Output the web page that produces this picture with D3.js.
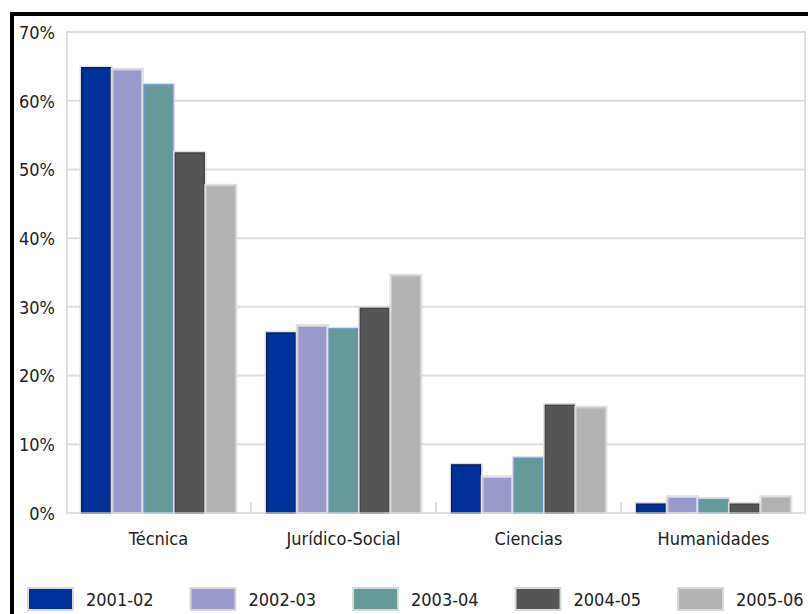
<!DOCTYPE html>
<html lang="es">
<head>
    <meta charset="UTF-8">
    <title>Distribución por rama</title>
    <style>
        body { margin: 0; background: #fff; }
        text { font-family: "DejaVu Sans Condensed", "Liberation Sans Narrow", sans-serif; fill: #222; }
    </style>
</head>
<body>
<script src="https://cdn.jsdelivr.net/npm/d3@7/dist/d3.min.js"></script>
<script>
    let categories = ["Técnica", "Jurídico-Social", "Ciencias", "Humanidades"];
    let series = ["2001-02", "2002-03", "2003-04", "2004-05", "2005-06"];
    let values2001 = [64.8, 26.2, 7.0, 1.3];
    let values2002 = [64.5, 27.2, 5.2, 2.3];
    let values2003 = [62.3, 26.8, 8.0, 2.0];
    let values2004 = [52.4, 29.8, 15.7, 1.3];
    let values2005 = [47.6, 34.5, 15.3, 2.3];
    let yTicks = [0, 10, 20, 30, 40, 50, 60, 70];

    let seriesValues = [values2001, values2002, values2003, values2004, values2005];
    let fills = ["#00309a", "#9999cc", "#669999", "#555555", "#b2b2b2"];
    let strokes = ["#0a1f5c", "#cfcfd8", "#6699cc", "#444444", "#c8c8c8"];

    let width = 808;
    let height = 614;
    let svg = d3.select("body").append("svg")
        .attr("width", width)
        .attr("height", height);

    let x0 = d3.scaleBand().domain(categories).range([66, 806]);
    let x1 = d3.scaleBand().domain(series).range([0, x0.bandwidth()])
        .paddingInner(0.07).paddingOuter(0.5);
    let y = d3.scaleLinear().domain([0, 70]).range([513, 32]);

    // grid
    svg.append("g").selectAll("line")
        .data(yTicks)
        .enter()
        .append("line")
        .attr("x1", 66)
        .attr("x2", 806)
        .attr("y1", d => y(d))
        .attr("y2", d => y(d))
        .attr("stroke", "#dcdcdc")
        .attr("stroke-width", 2);
    svg.append("line")
        .attr("x1", 67).attr("x2", 67)
        .attr("y1", y(70)).attr("y2", y(0))
        .attr("stroke", "#dcdcdc").attr("stroke-width", 2);
    svg.append("line")
        .attr("x1", 805).attr("x2", 805)
        .attr("y1", y(70)).attr("y2", y(0))
        .attr("stroke", "#dcdcdc").attr("stroke-width", 2);
    // small separators between groups
    svg.append("g").selectAll("line")
        .data(categories.slice(1))
        .enter()
        .append("line")
        .attr("x1", d => x0(d))
        .attr("x2", d => x0(d))
        .attr("y1", y(0) - 11)
        .attr("y2", y(0))
        .attr("stroke", "#dcdcdc")
        .attr("stroke-width", 2);

    // y axis labels
    let yAxis = d3.axisLeft(y).tickValues(yTicks).tickFormat(d => d + "%").tickSize(0).tickPadding(0);
    let gy = svg.append("g").attr("transform", "translate(55,0)").call(yAxis);
    gy.select(".domain").remove();
    gy.selectAll("text").attr("font-size", 18).attr("font-family", null).attr("dy", "0.35em");

    // x axis labels
    let xAxis = d3.axisBottom(x0).tickSize(0).tickPadding(0);
    let gx = svg.append("g").attr("transform", "translate(0,532)").call(xAxis);
    gx.select(".domain").remove();
    gx.selectAll("text").attr("font-size", 18).attr("dy", "0.71em");
    gy.attr("font-family", null);
    gx.attr("font-family", null);

    // bars
    let groups = svg.append("g").selectAll("g")
        .data(series)
        .enter()
        .append("g");
    groups.selectAll("rect")
        .data((s, i) => categories.map((c, j) => ({c: c, s: s, i: i, v: seriesValues[i][j]})))
        .enter()
        .append("rect")
        .attr("x", d => x0(d.c) + x1(d.s))
        .attr("y", d => y(d.v))
        .attr("width", x1.bandwidth())
        .attr("height", d => y(0) - y(d.v))
        .attr("fill", d => fills[d.i])
        .attr("stroke", d => strokes[d.i])
        .attr("stroke-width", 1.5);
    // light outline around bars
    groups.selectAll("rect.outline")
        .data((s, i) => categories.map((c, j) => ({c: c, s: s, v: seriesValues[i][j]})))
        .enter()
        .append("rect")
        .attr("class", "outline")
        .attr("x", d => x0(d.c) + x1(d.s) - 1.5)
        .attr("y", d => y(d.v) - 1.5)
        .attr("width", x1.bandwidth() + 3)
        .attr("height", d => y(0) - y(d.v) + 1.5)
        .attr("fill", "none")
        .attr("stroke", "#e0e0e0")
        .attr("stroke-width", 1.2);

    // legend
    let legendX = d3.scalePoint().domain(series).range([28, 678]);
    let legend = svg.append("g").selectAll("g")
        .data(series)
        .enter()
        .append("g")
        .attr("transform", d => "translate(" + legendX(d) + ",588)");
    legend.append("rect")
        .attr("width", 45)
        .attr("height", 22)
        .attr("fill", (d, i) => fills[i])
        .attr("stroke", "#d8d8d8")
        .attr("stroke-width", 2);
    legend.append("text")
        .attr("x", 58)
        .attr("y", 18)
        .attr("font-size", 18)
        .text(d => d);

    // frame
    svg.append("rect")
        .attr("x", 12)
        .attr("y", 14)
        .attr("width", 820)
        .attr("height", 640)
        .attr("fill", "none")
        .attr("stroke", "#000")
        .attr("stroke-width", 4);
</script>
</body>
</html>
